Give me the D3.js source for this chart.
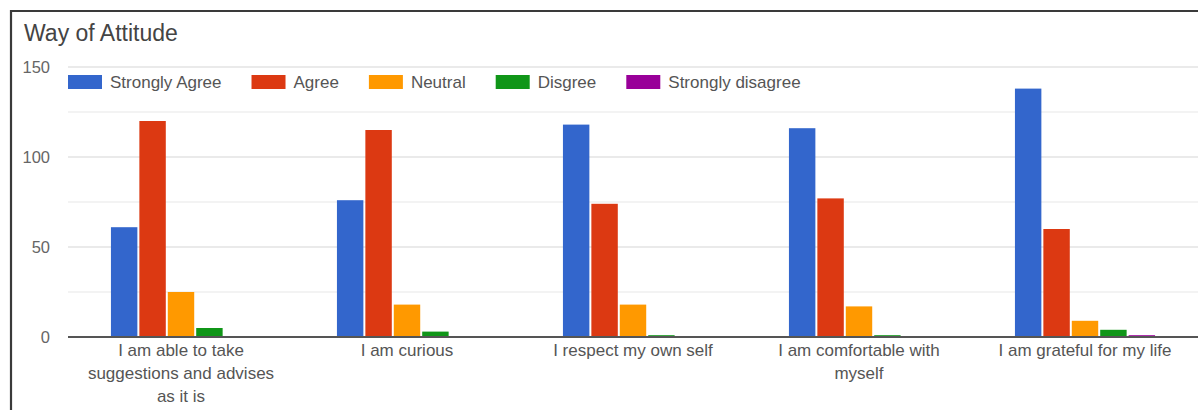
<!DOCTYPE html>
<html>
<head>
<meta charset="utf-8">
<script src="https://cdn.jsdelivr.net/npm/d3@7"></script>
<style>
  html, body { margin: 0; padding: 0; background: #fff; }
  svg { display: block; font-family: Arial, "Liberation Sans", sans-serif; }
</style>
</head>
<body>
<svg id="chart" width="1198" height="410"></svg>
<script>
const title = "Way of Attitude";
const categories = [
  "I am able to take suggestions and advises as it is",
  "I am curious",
  "I respect my own self",
  "I am comfortable with myself",
  "I am grateful for my life"
];
const categoryLines = [
  ["I am able to take", "suggestions and advises", "as it is"],
  ["I am curious"],
  ["I respect my own self"],
  ["I am comfortable with", "myself"],
  ["I am grateful for my life"]
];
const seriesNames = ["Strongly Agree", "Agree", "Neutral", "Disgree", "Strongly disagree"];
const seriesColors = ["#3366cc", "#dc3912", "#ff9900", "#109618", "#990099"];
const stronglyAgree = [61, 76, 118, 116, 138];
const agree = [120, 115, 74, 77, 60];
const neutral = [25, 18, 18, 17, 9];
const disagree = [5, 3, 1, 1, 4];
const stronglyDisagree = [0, 0, 0, 0, 1];
const yTickValues = [0, 50, 100, 150];
const yGridValues = [0, 25, 50, 75, 100, 125, 150];

const seriesValues = [stronglyAgree, agree, neutral, disagree, stronglyDisagree];

const svg = d3.select("#chart");
const W = 1198, H = 410;
const plot = { left: 68, right: 1198, top: 67, bottom: 337 };

// frame
svg.append("path")
  .attr("d", `M11,${H} L11,11 L${W},11`)
  .attr("fill", "none").attr("stroke", "#3a3a3a").attr("stroke-width", 2.2);

// title
svg.append("text").attr("x", 24).attr("y", 41)
  .attr("font-size", 23).attr("fill", "#444").text(title);

const y = d3.scaleLinear().domain([0, 150]).range([plot.bottom, plot.top]);
const x0 = d3.scaleBand().domain(categories).range([plot.left, plot.right])
  .paddingInner(0.38).paddingOuter(0.19);
const x1 = d3.scaleBand().domain(seriesNames).range([0, x0.bandwidth()]).paddingInner(0.07);

// gridlines
svg.append("g").selectAll("line").data(yGridValues.filter(v => v !== 0)).join("line")
  .attr("x1", plot.left).attr("x2", plot.right)
  .attr("y1", d => y(d)).attr("y2", d => y(d))
  .attr("stroke", d => d % 50 === 0 ? "#e3e3e3" : "#efefef").attr("stroke-width", 1.5);

// y labels
svg.append("g").selectAll("text").data(yTickValues).join("text")
  .attr("x", 50).attr("y", d => y(d)).attr("dy", "0.35em")
  .attr("text-anchor", "end").attr("font-size", 16.5).attr("fill", "#666")
  .text(d => d);

// bars
const groups = svg.append("g").selectAll("g").data(categories).join("g")
  .attr("transform", c => `translate(${x0(c)},0)`);
groups.selectAll("rect")
  .data((c, ci) => seriesNames.map((s, si) => ({ s, v: seriesValues[si][ci], color: seriesColors[si] })))
  .join("rect")
  .attr("x", d => x1(d.s)).attr("width", x1.bandwidth())
  .attr("y", d => y(d.v)).attr("height", d => y(0) - y(d.v))
  .attr("fill", d => d.color);

// baseline
svg.append("line").attr("x1", plot.left).attr("x2", plot.right)
  .attr("y1", y(0)).attr("y2", y(0)).attr("stroke", "#555").attr("stroke-width", 1.8);

// category labels
const xl = svg.append("g").selectAll("text").data(categories).join("text")
  .attr("x", c => x0(c) + x0.bandwidth() / 2)
  .attr("y", 356).attr("text-anchor", "middle").attr("font-size", 17).attr("fill", "#555");
xl.each(function(c, i) {
  d3.select(this).selectAll("tspan").data(categoryLines[i]).join("tspan")
    .attr("x", x0(c) + x0.bandwidth() / 2)
    .attr("dy", (d, j) => j === 0 ? 0 : 23)
    .text(d => d);
});

// legend
const legend = svg.append("g");
let lx = plot.left;
seriesNames.forEach((s, i) => {
  legend.append("rect").attr("x", lx).attr("y", 75).attr("width", 34).attr("height", 14)
    .attr("fill", seriesColors[i]);
  const t = legend.append("text").attr("x", lx + 42).attr("y", 88)
    .attr("font-size", 17).attr("fill", "#555").text(s);
  lx += 42 + t.node().getComputedTextLength() + 30;
});
</script>
</body>
</html>
